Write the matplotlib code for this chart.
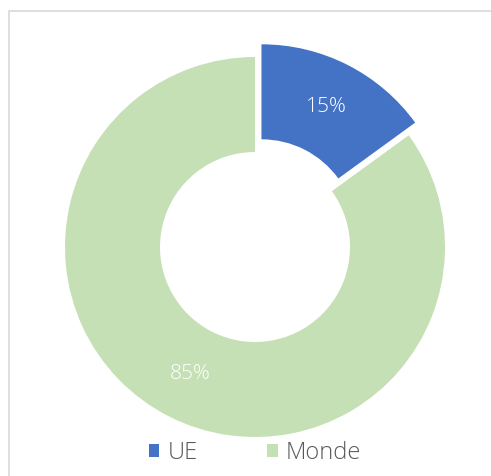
import matplotlib.pyplot as plt
from matplotlib.patches import Rectangle, Patch

# data
labels = ["UE", "Monde"]
shares = [15, 85]
colors = ["#4472C4", "#C5E0B4"]
explode = [0.075, 0]

W, H = 491, 476
plt.rcParams['font.family'] = ['Open Sans', 'DejaVu Sans']

fig = plt.figure(figsize=(W / 100, H / 100), dpi=100)

# light chart-area frame (cut at right and bottom like the original)
fig.add_artist(Rectangle((8.5 / W, -0.1), 1.2, 1 - 10.5 / H + 0.1,
                         transform=fig.transFigure, fill=False,
                         edgecolor="#D9D9D9", linewidth=1.2))

# donut: centre (255, 247) px, radius 190 px
R = 190
half = 210
cx, cy = 255, H - 247
ax = fig.add_axes([(cx - half) / W, (cy - half) / H, 2 * half / W, 2 * half / H])
wedges, texts, autotexts = ax.pie(
    shares, colors=colors, explode=explode, startangle=90, counterclock=False,
    autopct="%d%%", pctdistance=0.75, radius=1.0,
    wedgeprops=dict(width=0.5, linewidth=0),
    textprops=dict(color="white", fontsize=15, fontweight="light"))
ax.set_xlim(-half / R, half / R)
ax.set_ylim(-half / R, half / R)
ax.axis("off")

handles = [Patch(facecolor=c, edgecolor="none") for c in colors]
fig.legend(handles, labels, loc="center", bbox_to_anchor=(255 / W, 1 - 453 / H),
           ncol=2, frameon=False, prop=dict(size=17, weight="light"),
           labelcolor="#595959",
           handlelength=0.45, handleheight=0.45, handletextpad=0.35,
           columnspacing=2.95)

fig.savefig("out.png", dpi=100)
